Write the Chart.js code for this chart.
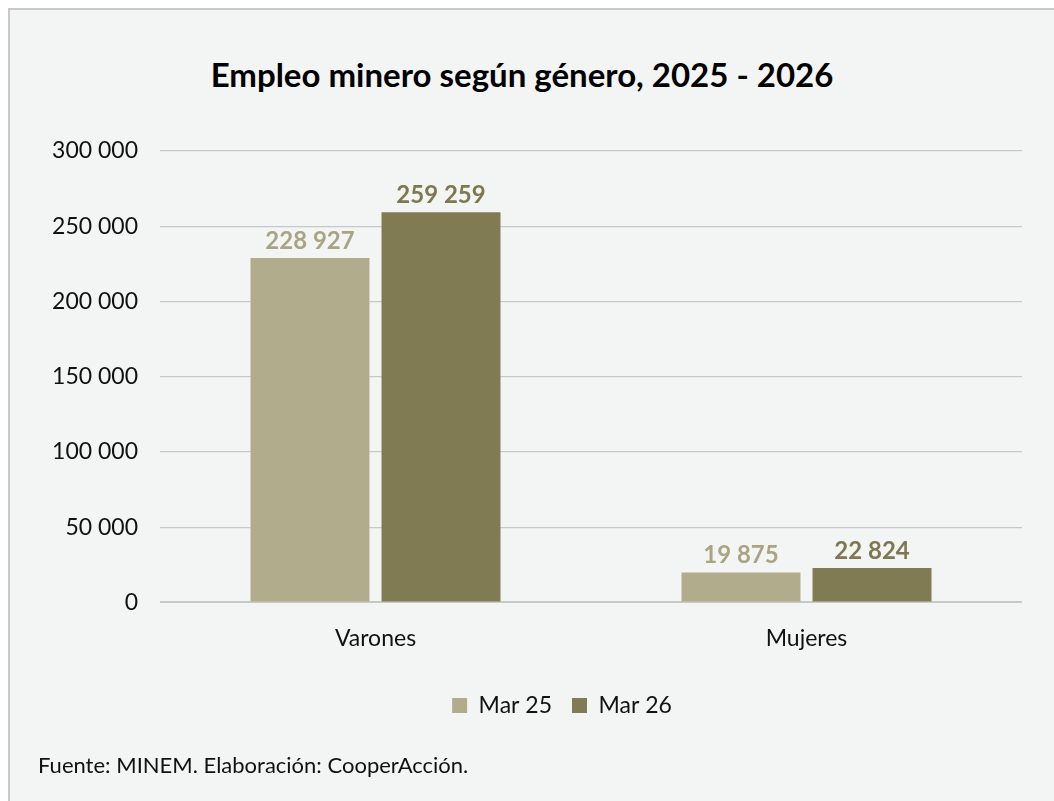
<!DOCTYPE html>
<html>
<head>
<meta charset="utf-8">
<title>Empleo minero según género</title>
<script src="https://cdn.jsdelivr.net/npm/chart.js@4.4.1/dist/chart.umd.min.js"></script>
<style>
  html, body { margin: 0; padding: 0; background: #fff; overflow: hidden; }
  .frame {
    position: absolute; left: 8px; top: 8px; width: 1100px; height: 900px;
    border: 2px solid #c9c9c9; background: #f3f5f4;
  }
  .title {
    position: absolute; left: 0; top: 54px; width: 1044px; line-height: 42px;
    text-align: center; font: bold 33px Lato, sans-serif; color: #000;
  }
  .footer {
    position: absolute; left: 38px; top: 751px; line-height: 26px;
    font: 22px Lato, sans-serif; color: #111;
  }
  canvas { position: absolute; left: 0; top: 0; }
</style>
</head>
<body>
<div class="frame"></div>
<div class="title">Empleo minero según género, 2025 - 2026</div>
<canvas id="chart" width="1054" height="801"></canvas>
<div class="footer">Fuente: MINEM. Elaboración: CooperAcción.</div>

<script>
// datos
const categorias = ['Varones', 'Mujeres'];
const series = ['Mar 25', 'Mar 26'];
const mar25 = [228927, 19875];
const mar26 = [259259, 22824];
const yTicks = [0, 50000, 100000, 150000, 200000, 250000, 300000];

const colores = ['#b1ad8c', '#807b52'];
const coloresEtiqueta = ['#a9a582', '#7d7850'];

// 228927 -> "228 927"
function formato(n) {
  return String(n).replace(/\B(?=(\d{3})+(?!\d))/g, ' ');
}

// etiquetas encima de las barras
const etiquetasBarras = {
  id: 'etiquetasBarras',
  afterDatasetsDraw(chart) {
    const ctx = chart.ctx;
    chart.data.datasets.forEach((ds, i) => {
      chart.getDatasetMeta(i).data.forEach((bar, j) => {
        ctx.save();
        ctx.font = 'bold 24px Lato';
        ctx.fillStyle = coloresEtiqueta[i];
        ctx.textAlign = 'center';
        ctx.textBaseline = 'alphabetic';
        ctx.fillText(formato(ds.data[j]), bar.x, bar.y - 9);
        ctx.restore();
      });
    });
  }
};

// la leyenda va un poco a la derecha, como en el original
const moverLeyenda = {
  id: 'moverLeyenda',
  afterLayout(chart) {
    chart.legend.left += 36;
    chart.legend.right += 36;
  }
};

const ctx = document.getElementById('chart').getContext('2d');
new Chart(ctx, {
  type: 'bar',
  data: {
    labels: categorias,
    datasets: [
      { label: series[0], data: mar25, backgroundColor: colores[0] },
      { label: series[1], data: mar26, backgroundColor: colores[1] }
    ]
  },
  options: {
    responsive: false,
    animation: false,
    categoryPercentage: 0.608,
    barPercentage: 0.908,
    layout: { padding: { left: 30, right: 32, top: 151, bottom: 74 } },
    plugins: {
      title: { display: false },
      tooltip: { enabled: false },
      legend: {
        position: 'bottom',
        labels: {
          boxWidth: 15,
          boxHeight: 15,
          padding: 20,
          color: '#111',
          font: { family: 'Lato', size: 23 }
        }
      }
    },
    scales: {
      x: {
        grid: { display: false, drawTicks: false },
        border: { display: false },
        ticks: { padding: 22, color: '#111', font: { family: 'Lato', size: 23 } }
      },
      y: {
        min: 0,
        max: 300000,
        afterBuildTicks(scale) {
          scale.ticks = yTicks.map(v => ({ value: v }));
        },
        afterFit(scale) {
          scale.width = 130;
        },
        grid: {
          color: '#c8c8c8',
          lineWidth: (c) => c.tick && c.tick.value === 0 ? 2 : 1.3,
          drawTicks: false
        },
        border: { display: false },
        ticks: {
          padding: 22,
          color: '#111',
          font: { family: 'Lato', size: 23 },
          callback: (v) => formato(v)
        }
      }
    }
  },
  plugins: [etiquetasBarras, moverLeyenda]
});
</script>
</body>
</html>
